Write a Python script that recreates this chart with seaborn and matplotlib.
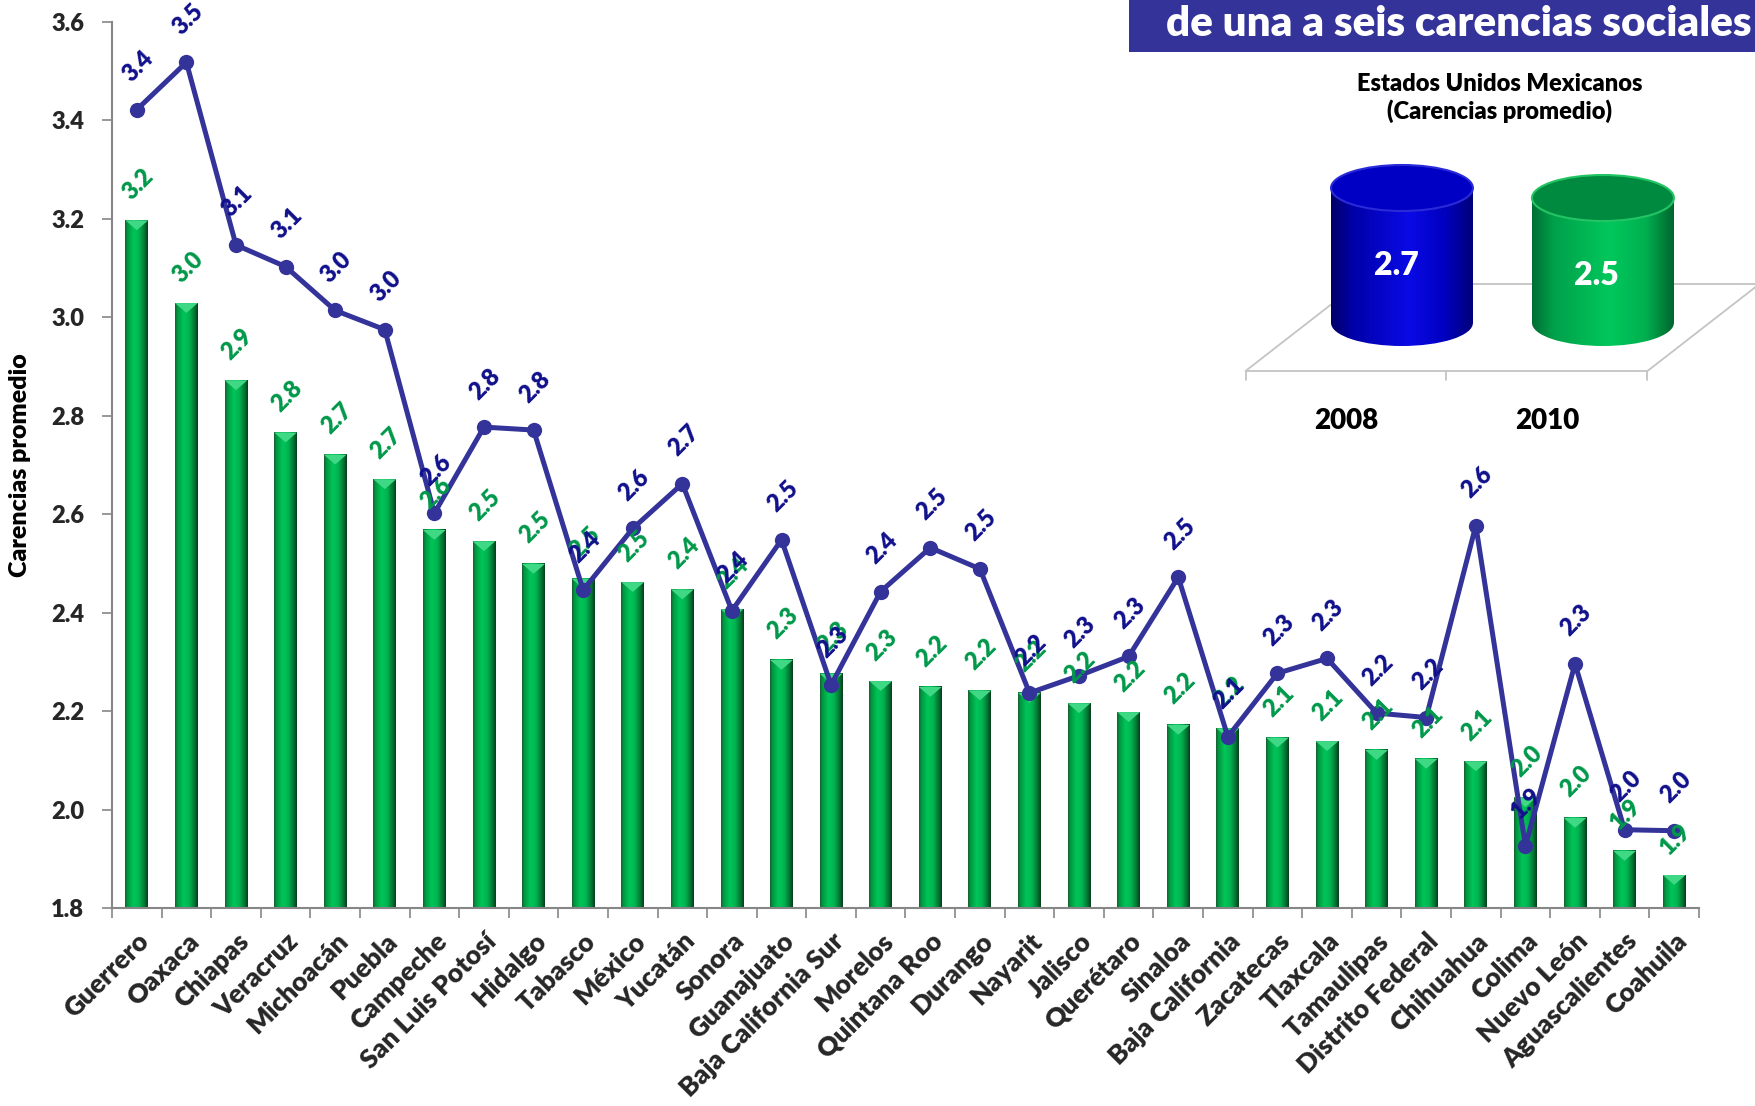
import numpy as np
import pandas as pd
import matplotlib
matplotlib.use("Agg")
import matplotlib.pyplot as plt
import seaborn as sns
from matplotlib.colors import LinearSegmentedColormap
from matplotlib.patches import Rectangle, Ellipse, Polygon

# ---------------- data ----------------
states = ["Guerrero", "Oaxaca", "Chiapas", "Veracruz", "Michoacán", "Puebla",
          "Campeche", "San Luis Potosí", "Hidalgo", "Tabasco", "México", "Yucatán",
          "Sonora", "Guanajuato", "Baja California Sur", "Morelos", "Quintana Roo",
          "Durango", "Nayarit", "Jalisco", "Querétaro", "Sinaloa", "Baja California",
          "Zacatecas", "Tlaxcala", "Tamaulipas", "Distrito Federal", "Chihuahua",
          "Colima", "Nuevo León", "Aguascalientes", "Coahuila"]
carencias_2010 = [3.197, 3.029, 2.872, 2.766, 2.721, 2.671, 2.568, 2.545, 2.499, 2.469,
                  2.462, 2.447, 2.407, 2.304, 2.276, 2.261, 2.249, 2.242, 2.237, 2.216,
                  2.198, 2.172, 2.165, 2.146, 2.139, 2.121, 2.103, 2.098, 2.025, 1.983,
                  1.916, 1.867]
carencias_2008 = [3.422, 3.518, 3.147, 3.103, 3.014, 2.975, 2.602, 2.777, 2.771, 2.446,
                  2.571, 2.662, 2.404, 2.548, 2.253, 2.443, 2.532, 2.489, 2.237, 2.272,
                  2.311, 2.472, 2.148, 2.277, 2.307, 2.196, 2.187, 2.577, 1.926, 2.296,
                  1.959, 1.957]
year_labels = ["2008", "2010"]
national_values = [2.7, 2.5]
yticks = [1.8, 2.0, 2.2, 2.4, 2.6, 2.8, 3.0, 3.2, 3.4, 3.6]
title_text = "de una a seis carencias sociales"
inset_title_1 = "Estados Unidos Mexicanos"
inset_title_2 = "(Carencias promedio)"
ylabel_text = "Carencias promedio"

# ---------------- style ----------------
sns.set_theme(style="white")
plt.rcParams['font.family'] = ['Lato', 'DejaVu Sans']
plt.rcParams['font.weight'] = 'heavy'
FW = 'heavy'

W, H = 1756, 1106
fig = plt.figure(figsize=(W / 100, H / 100), dpi=100)


def fx(px):
    return px / W


def fy(py):
    return 1 - py / H


LINE_BLUE = "#333399"
LABEL_BLUE = "#10108c"
LABEL_GREEN = "#00984a"
AXIS_GRAY = "#868686"

# ---------------- main axes ----------------
ax = fig.add_axes([fx(112), fy(908), fx(1699) - fx(112), fy(22) - fy(908)])
ax.patch.set_alpha(0)
YMIN, YMAX = 1.8, 3.6

df = pd.DataFrame({"estado": states, "v2010": carencias_2010, "v2008": carencias_2008})
sns.barplot(data=df, x="estado", y="v2010", color="#00b050", saturation=1,
            width=0.46, ax=ax, zorder=2)

bar_cmap = LinearSegmentedColormap.from_list(
    "bar", [(0, "#1a5c30"), (0.1, "#00963f"), (0.38, "#00c65a"), (0.62, "#00b34f"),
            (0.85, "#007533"), (1, "#0b3b1b")])
grad = np.linspace(0, 1, 256).reshape(1, -1)
for p in list(ax.patches):
    x0, y0 = p.get_x(), p.get_y()
    w, h = p.get_width(), p.get_height()
    ax.imshow(grad, cmap=bar_cmap, extent=(x0, x0 + w, max(y0, YMIN), y0 + h),
              aspect='auto', origin='lower', zorder=2.1, interpolation='bilinear')
    d = 0.02
    ax.add_patch(Polygon([(x0, y0 + h), (x0 + w, y0 + h), (x0 + w / 2, y0 + h - d)],
                         closed=True, fc="#3fd884", ec='none', zorder=2.2))

sns.lineplot(x=np.arange(len(states)), y=carencias_2008, ax=ax, color=LINE_BLUE,
             lw=3.6, marker='o', markersize=11, markeredgecolor=LINE_BLUE,
             markeredgewidth=0, zorder=5)

for i, v in enumerate(carencias_2010):
    ax.annotate(f"{v:.1f}", (i, v), xytext=(1, 26), textcoords='offset points',
                rotation=45, ha='center', va='center', color=LABEL_GREEN,
                fontsize=17, fontweight=FW, zorder=6)
for i, v in enumerate(carencias_2008):
    ax.annotate(f"{v:.1f}", (i, v), xytext=(1, 31), textcoords='offset points',
                rotation=45, ha='center', va='center', color=LABEL_BLUE,
                fontsize=17, fontweight=FW, zorder=7)

ax.set_xlim(-0.5, len(states) - 0.5)
ax.set_ylim(YMIN, YMAX)
ax.set_yticks(yticks)
ax.set_yticklabels([f"{t:.1f}" for t in yticks], fontsize=17, fontweight=FW)
ax.set_xticks(range(len(states)))
ax.set_xticklabels(states, rotation=45, ha='right', rotation_mode='anchor',
                   fontsize=19, fontweight=FW)
ax.set_xticks(np.arange(-0.5, len(states)), minor=True)
ax.tick_params(axis='x', which='major', bottom=True, length=0, pad=15)
ax.tick_params(axis='x', which='minor', bottom=True, length=7, width=1.2,
               color=AXIS_GRAY, direction='out')
ax.tick_params(axis='y', left=True, length=7, width=1.2, color=AXIS_GRAY,
               direction='out', pad=13)
for s in ['top', 'right']:
    ax.spines[s].set_visible(False)
for s in ['left', 'bottom']:
    ax.spines[s].set_color(AXIS_GRAY)
    ax.spines[s].set_linewidth(1.5)
ax.set_xlabel("")
ax.set_ylabel("")

fig.text(fx(20), fy(465), ylabel_text, rotation=90, ha='center', va='center',
         fontsize=18, fontweight=FW, color='black')

# ---------------- title banner ----------------
fig.patches.append(Rectangle((fx(1129), fy(52)), 1 - fx(1129), fy(0) - fy(52),
                             transform=fig.transFigure, fc=LINE_BLUE, ec='none',
                             zorder=1))
fig.text(fx(1166), fy(36), title_text, color='white', fontsize=30.3,
         fontweight=FW, ha='left', va='baseline', zorder=2)

# ---------------- inset (national averages) ----------------
iax = fig.add_axes([fx(1220), fy(440), fx(1756) - fx(1220), fy(140) - fy(440)])
iax.set_xlim(-0.627, 2.040)
iax.set_ylim(-2.34, 3.66)
iax.axis('off')

floor_col = "#c4c4c4"
front_y, back_y, depth_x = -0.96, 0.78, 0.557
iax.plot([-0.5, 1.5], [front_y, front_y], color=floor_col, lw=1.3, zorder=1)
iax.plot([-0.5 + depth_x, 1.5 + depth_x], [back_y, back_y], color=floor_col, lw=1.3, zorder=1)
iax.plot([-0.5, -0.5 + depth_x], [front_y, back_y], color=floor_col, lw=1.3, zorder=1)
iax.plot([1.5, 1.5 + depth_x], [front_y, back_y], color=floor_col, lw=1.3, zorder=1)
for tx in [-0.5, 0.5, 1.5]:
    iax.plot([tx, tx], [front_y, front_y - 0.18], color=floor_col, lw=1.3, zorder=1)

cyl_maps = [
    LinearSegmentedColormap.from_list("cb", [(0, "#000068"), (0.15, "#0000a8"),
                                             (0.55, "#0a0ae6"), (0.8, "#0000c0"),
                                             (1, "#00007a")]),
    LinearSegmentedColormap.from_list("cg", [(0, "#006e34"), (0.15, "#00a04a"),
                                             (0.55, "#00c85c"), (0.8, "#00b050"),
                                             (1, "#00662e")]),
]
top_cols = [("#0000c4", "#2a2ad8"), ("#008a40", "#22c463")]
hw, eh = 0.353, 0.46
for i, v in enumerate(national_values):
    cx = i + depth_x / 2
    body = Rectangle((cx - hw, 0), 2 * hw, v, transform=iax.transData)
    base = Ellipse((cx, 0), 2 * hw, 2 * eh, transform=iax.transData)
    for clip in (body, base):
        im = iax.imshow(grad, cmap=cyl_maps[i], extent=(cx - hw, cx + hw, -eh, v),
                        aspect='auto', origin='lower', zorder=2, interpolation='bilinear')
        im.set_clip_path(clip)
    iax.add_patch(Ellipse((cx, v), 2 * hw, 2 * eh, fc=top_cols[i][0],
                          ec=top_cols[i][1], lw=1.5, zorder=3))
    iax.text(cx - 0.03, v - 1.55, f"{v:.1f}", color='white', fontsize=23,
             fontweight=FW, ha='center', va='center', zorder=4)
    iax.text(i, -1.96, year_labels[i], color='black', fontsize=20,
             fontweight=FW, ha='center', va='center', zorder=4)
iax.set_xlim(-0.627, 2.040)
iax.set_ylim(-2.34, 3.66)

fig.text(fx(1500), fy(91), inset_title_1, ha='center', va='baseline',
         fontsize=17, fontweight=FW, color='black')
fig.text(fx(1500), fy(119), inset_title_2, ha='center', va='baseline',
         fontsize=17, fontweight=FW, color='black')

fig.savefig("out.png", dpi=100)
